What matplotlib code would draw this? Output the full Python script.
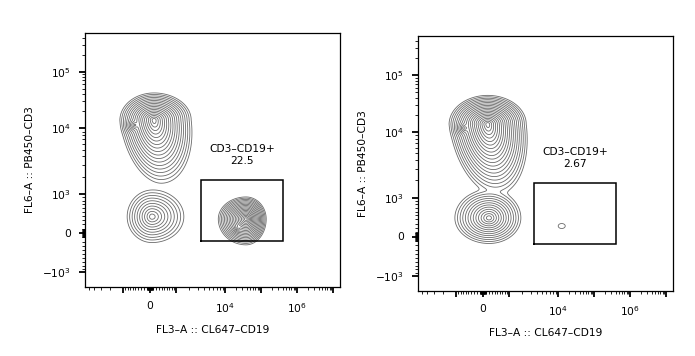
import numpy as np
import matplotlib
matplotlib.use("Agg")
import matplotlib.pyplot as plt
from matplotlib.ticker import FixedLocator, FixedFormatter, NullFormatter

plt.rcParams["font.family"] = ["DejaVu Sans"]
plt.rcParams["mathtext.default"] = "regular"

# -----------------------------------------------
# Axis display (biex-like): value -> pixel along the axis
# -----------------------------------------------
x_anchor_vals = [-1e5, -1e4, -1e3, 0, 1e3, 1e4, 1e5, 1e6, 1e7, 1e8]
x_anchor_pos = [-62, -12, 38, 65, 91, 140, 176, 212, 248, 284]
y_anchor_vals = [-1e5, -1e4, -1e3, 0, 1e3, 1e4, 1e5, 1e6]
y_anchor_pos = [-117.3, -51.3, 14.7, 54, 92.7, 158.7, 215.3, 271.9]
x_len, y_len = 255.0, 254.3

x_major = [-1e3, 0, 1e3, 1e4, 1e5, 1e6, 1e7]
x_major_labels = ["", "0", "", r"$10^4$", "", r"$10^6$", ""]
y_major = [-1e3, 0, 1e3, 1e4, 1e5]
y_major_labels = [r"$-10^3$", "0", r"$10^3$", r"$10^4$", r"$10^5$"]

x_label = "FL3\u2013A :: CL647\u2013CD19"
y_label = "FL6\u2013A :: PB450\u2013CD3"

# -----------------------------------------------
# Gate
# -----------------------------------------------
gate_name = "CD3\u2013CD19+"
gate_x = [3500, 4.0e5]
gate_y = [-170, 1800]
gate_pct = ["22.5", "2.67"]

# -----------------------------------------------
# Populations: centre (data units), spreads (display px:
# left, right, down, up), downward skew, weight
# -----------------------------------------------
left_pop_x = [136, 68, 38400, -509, 23000]
left_pop_y = [14000, 380, 324, 11440, 114]
left_pop_sxl = [5.4, 7.1, 4.4, 3.5, 2.5]
left_pop_sxr = [5.9, 9.1, 3.2, 3.5, 2.5]
left_pop_syd = [10.0, 7.4, 4.1, 3.5, 2.5]
left_pop_syu = [4.3, 7.6, 3.5, 3.5, 2.5]
left_pop_skew = [0.12, 0.0, 0.0, 0.0, 0.0]
left_pop_wt = [545, 33, 545, 40, 70]

right_pop_x = [160, 205, 12690, -619]
right_pop_y = [13700, 434, 241, 11670]
right_pop_sxl = [5.5, 7.5, 11.7, 3.5]
right_pop_sxr = [5.5, 7.0, 11.7, 3.5]
right_pop_syd = [10.0, 5.6, 8.3, 3.5]
right_pop_syu = [4.1, 6.2, 8.3, 3.5]
right_pop_skew = [0.125, 0.0, 0.0, 0.0]
right_pop_wt = [1097, 94.6, 1.35, 45]


def make_scale(vals, pos):
    g = np.arcsinh(np.asarray(vals, float) / 1000.0)
    pos = np.asarray(pos, float)

    def fwd(v):
        return np.interp(np.arcsinh(np.asarray(v, float) / 1000.0), g, pos)

    def inv(p):
        return 1000.0 * np.sinh(np.interp(np.asarray(p, float), pos, g))

    return fwd, inv


fx, ix = make_scale(x_anchor_vals, x_anchor_pos)
fy, iy = make_scale(y_anchor_vals, y_anchor_pos)


def minor_ticks(lo, hi, majors):
    out = []
    for d in range(1, 8):
        for m in range(1, 10):
            for s in (1, -1):
                v = s * m * 10 ** d
                if lo < v < hi and v not in majors:
                    out.append(v)
    return out


def density(U, W, pops):
    Z = np.zeros_like(U)
    for cx, cy, sxl, sxr, syd, syu, sk, k in zip(*pops):
        cu, cw = fx(cx), fy(cy)
        dy = W - cw
        dx = U - cu - sk * np.clip(-dy, 0, None)
        a = np.where(dx < 0, sxl, sxr)
        b = np.where(dy < 0, syd, syu)
        r = np.sqrt((dx / a) ** 2 + (dy / b) ** 2)
        Z += (k * np.exp(-r)) ** 3
    return Z ** (1 / 3)


def draw_panel(ax, pops, pct):
    ax.set_xscale("function", functions=(fx, ix))
    ax.set_yscale("function", functions=(fy, iy))
    xlo, xhi = float(ix(0)), float(ix(x_len))
    ylo, yhi = float(iy(0)), float(iy(y_len))
    ax.set_xlim(xlo, xhi)
    ax.set_ylim(ylo, yhi)

    u = np.linspace(0, x_len, 511)
    w = np.linspace(0, y_len, 509)
    U, W = np.meshgrid(u, w)
    Z = density(U, W, pops)
    levels = np.exp(0.35 * np.arange(0, 26))
    ax.contour(ix(U), iy(W), Z, levels=levels, colors="#6a6a6a",
               linewidths=0.6)

    gx = [gate_x[0], gate_x[1], gate_x[1], gate_x[0], gate_x[0]]
    gy = [gate_y[0], gate_y[0], gate_y[1], gate_y[1], gate_y[0]]
    ax.plot(gx, gy, color="black", lw=1.1, solid_joinstyle="miter")

    xm = float(ix((fx(gate_x[0]) + fx(gate_x[1])) / 2))
    ax.text(xm, float(iy(132.5)), gate_name + "\n" + pct, ha="center",
            va="center", fontsize=7.7, linespacing=1.25)

    ax.xaxis.set_major_locator(FixedLocator(x_major))
    ax.xaxis.set_major_formatter(FixedFormatter(x_major_labels))
    ax.xaxis.set_minor_locator(FixedLocator(minor_ticks(xlo, xhi, x_major)))
    ax.xaxis.set_minor_formatter(NullFormatter())
    ax.yaxis.set_major_locator(FixedLocator(y_major))
    ax.yaxis.set_major_formatter(FixedFormatter(y_major_labels))
    ax.yaxis.set_minor_locator(FixedLocator(minor_ticks(ylo, yhi, y_major)))
    ax.yaxis.set_minor_formatter(NullFormatter())

    ax.tick_params(which="major", direction="out", length=4, width=1.3,
                   labelsize=7.7, pad=6)
    ax.tick_params(which="minor", direction="out", length=2.5, width=0.6)
    for sp in ax.spines.values():
        sp.set_linewidth(0.9)

    ax.set_xlabel(x_label, fontsize=7.7)
    ax.set_ylabel(y_label, fontsize=7.7)
    ax.xaxis.set_label_coords(0.5, -0.149)
    ax.yaxis.set_label_coords(-0.196, 0.5)


def main():
    W_px, H_px = 695, 356
    fig = plt.figure(figsize=(W_px / 100, H_px / 100), dpi=100)

    left_pops = (left_pop_x, left_pop_y, left_pop_sxl, left_pop_sxr,
                 left_pop_syd, left_pop_syu, left_pop_skew, left_pop_wt)
    right_pops = (right_pop_x, right_pop_y, right_pop_sxl, right_pop_sxr,
                  right_pop_syd, right_pop_syu, right_pop_skew, right_pop_wt)

    ax1 = fig.add_axes([85 / W_px, (H_px - 287) / H_px, x_len / W_px, y_len / H_px])
    draw_panel(ax1, left_pops, gate_pct[0])

    ax2 = fig.add_axes([418 / W_px, (H_px - 290.5) / H_px, x_len / W_px, y_len / H_px])
    draw_panel(ax2, right_pops, gate_pct[1])

    fig.savefig("out.png", dpi=100)


if __name__ == "__main__":
    main()
